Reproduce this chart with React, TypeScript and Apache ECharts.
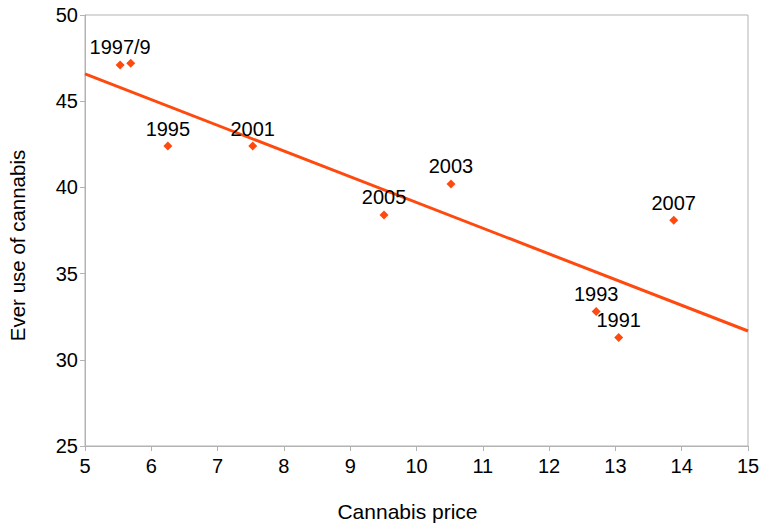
import React, { useEffect, useRef } from "react";
import * as echarts from "echarts";

const years = ["1997/9", "", "1995", "2001", "2005", "2003", "2007", "1993", "1991"];
const prices = [5.53, 5.69, 6.25, 7.53, 9.51, 10.52, 13.88, 12.71, 13.05];
const everUse = [47.1, 47.2, 42.4, 42.4, 38.4, 40.2, 38.1, 32.8, 31.3];
const trendX = [5, 15];
const trendY = [46.58, 31.67];

const COLOR = "#ff4a0f";
const FONT = "Liberation Sans";

export default function App() {
  const ref = useRef<HTMLDivElement>(null);
  useEffect(() => {
    if (!ref.current) return;
    const chart = echarts.init(ref.current, undefined, { renderer: "svg" });
    chart.setOption({
      animation: false,
      backgroundColor: "#ffffff",
      grid: {
        left: 85, right: 15, top: 15, bottom: 80,
        show: true, borderColor: "#b3b3b3", borderWidth: 1,
        outerBoundsMode: "none", containLabel: false,
      },
      xAxis: {
        type: "value",
        min: 5,
        max: 15,
        interval: 1,
        name: "Cannabis price",
        nameLocation: "middle",
        nameGap: 55,
        nameTextStyle: { color: "#000", fontSize: 21, fontFamily: FONT, padding: [0, 18, 0, 0] },
        axisLine: { show: true, lineStyle: { color: "#b3b3b3" } },
        axisTick: { show: true, length: 5, lineStyle: { color: "#b3b3b3" } },
        axisLabel: { color: "#000", fontSize: 20, fontFamily: FONT, margin: 10 },
        splitLine: { show: false },
      },
      yAxis: {
        type: "value",
        min: 25,
        max: 50,
        interval: 5,
        name: "Ever use of cannabis",
        nameLocation: "middle",
        nameGap: 57,
        nameTextStyle: { color: "#000", fontSize: 20.5, fontFamily: FONT, padding: [0, 30, 0, 0] },
        axisLine: { show: true, lineStyle: { color: "#b3b3b3" } },
        axisTick: { show: true, length: 5, lineStyle: { color: "#b3b3b3" } },
        axisLabel: { color: "#000", fontSize: 20, fontFamily: FONT, margin: 7 },
        splitLine: { show: false },
      },
      series: [
        {
          type: "line",
          data: trendX.map((x, i) => [x, trendY[i]]),
          symbol: "none",
          lineStyle: { color: COLOR, width: 3 },
          z: 2,
        },
        {
          type: "scatter",
          data: prices.map((x, i) => ({ value: [x, everUse[i]], name: years[i] })),
          symbol: "diamond",
          symbolSize: 9,
          itemStyle: { color: COLOR, opacity: 1 },
          label: {
            show: true,
            position: "top",
            distance: 3,
            formatter: (p: any) => p.name,
            color: "#000",
            fontSize: 20,
            fontFamily: FONT,
          },
          z: 3,
        },
      ],
    });
    return () => chart.dispose();
  }, []);
  return <div ref={ref} style={{ width: 763, height: 526, position: "absolute", left: 0, top: 0 }} />;
}
